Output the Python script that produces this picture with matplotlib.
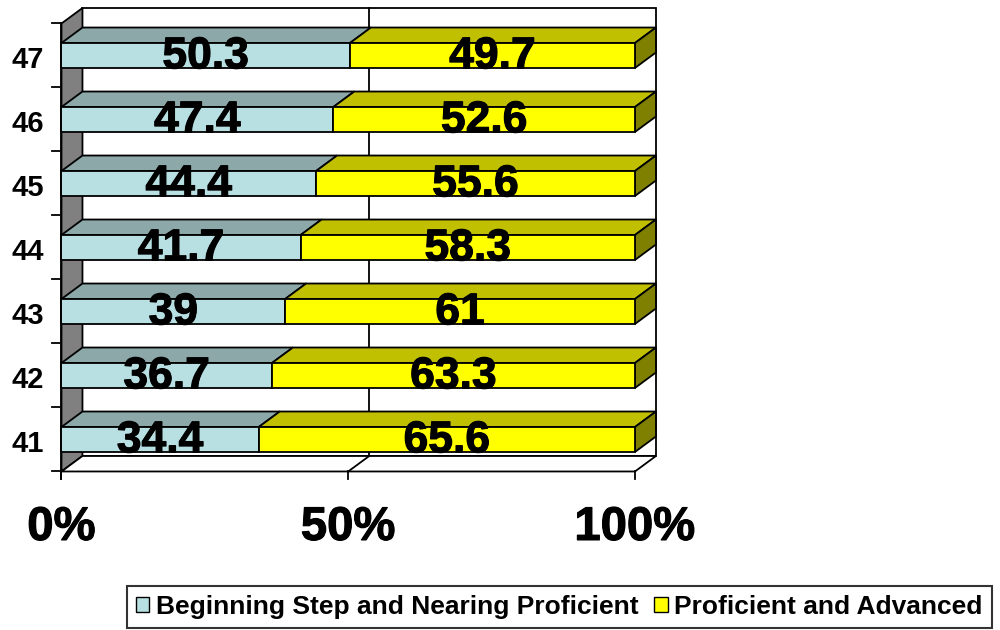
import matplotlib.pyplot as plt
from matplotlib.patches import Polygon, Patch
import matplotlib.patheffects as pe

grades = ['41', '42', '43', '44', '45', '46', '47']
beginning = [34.4, 36.7, 39, 41.7, 44.4, 47.4, 50.3]
proficient = [65.6, 63.3, 61, 58.3, 55.6, 52.6, 49.7]
series_names = ['Beginning Step and Nearing Proficient', 'Proficient and Advanced']
x_ticks = [0, 50, 100]
x_tick_labels = ['0%', '50%', '100%']

# front / top / side shades for each series
teal = ('#b8e0e2', '#8ca8a9', '#5c7071')
yellow = ('#ffff00', '#c0c000', '#808000')

FONT = 'Liberation Sans'
heavy = [pe.withStroke(linewidth=0.8, foreground='black')]

# depth of the fake 3d box, in data units
dx = 3.66
dy = 0.242
half_h = 0.195


def poly(ax, pts, color, z=1, lw=1.3):
    ax.add_patch(Polygon(pts, closed=True, facecolor=color, edgecolor='black',
                         linewidth=lw, joinstyle='miter', zorder=z))


def draw_bar(ax, y, left, width, shades, right_side):
    front, top, side = shades
    y0 = y - half_h
    y1 = y + half_h
    x0 = left
    x1 = left + width
    # top face
    poly(ax, [(x0, y1), (x1, y1), (x1 + dx, y1 + dy), (x0 + dx, y1 + dy)], top, z=3)
    # front face
    poly(ax, [(x0, y0), (x1, y0), (x1, y1), (x0, y1)], front, z=4)
    if right_side:
        poly(ax, [(x1, y0), (x1 + dx, y0 + dy), (x1 + dx, y1 + dy), (x1, y1)], side, z=3)


fig = plt.figure(figsize=(10, 6.3), dpi=100)
ax = fig.add_axes([0, 0, 1, 1])
ax.set_xlim(-10.72, 163.65)
ax.set_ylim(-2.977, 6.867)
ax.axis('off')

n = len(grades)
lo = -0.5
hi = n - 0.5

# back wall, left wall and floor
poly(ax, [(dx, lo + dy), (100 + dx, lo + dy), (100 + dx, hi + dy), (dx, hi + dy)], 'white', z=1)
poly(ax, [(0, lo), (dx, lo + dy), (dx, hi + dy), (0, hi)], '#808080', z=1)
poly(ax, [(0, lo), (100, lo), (100 + dx, lo + dy), (dx, lo + dy)], 'white', z=1)

# gridline at 50%
ax.plot([50 + dx, 50 + dx], [lo + dy, hi + dy], color='black', lw=1.3, zorder=2)
ax.plot([50, 50 + dx], [lo, lo + dy], color='black', lw=1.3, zorder=2)

for i in range(n):
    draw_bar(ax, i, 0, beginning[i], teal, False)
    draw_bar(ax, i, beginning[i], proficient[i], yellow, True)
    ax.text(beginning[i] / 2, i - 0.2, f'{beginning[i]:g}', ha='center', va='baseline',
            fontsize=32, fontweight='bold', family=FONT, zorder=6, path_effects=heavy)
    ax.text(beginning[i] + proficient[i] / 2, i - 0.2, f'{proficient[i]:g}', ha='center',
            va='baseline', fontsize=32, fontweight='bold', family=FONT, zorder=6,
            path_effects=heavy)
    ax.text(-5.93, i - 0.195, grades[i], ha='center', va='baseline',
            fontsize=21, fontweight='bold', family=FONT)

# axes lines and ticks
ax.plot([0, 0], [lo - 0.125, hi], color='black', lw=1.3, zorder=5)
for k in range(n + 1):
    ax.plot([-1.6, 0], [lo + k, lo + k], color='black', lw=1.3, zorder=5)
for xt, lab in zip(x_ticks, x_tick_labels):
    ax.plot([xt, xt], [lo, lo - 0.125], color='black', lw=1.3, zorder=5)
    ax.text(xt, -1.57, lab, ha='center', va='baseline', fontsize=34,
            fontweight='bold', family=FONT, path_effects=heavy)

handles = [Patch(facecolor=teal[0], edgecolor='black', linewidth=1),
           Patch(facecolor=yellow[0], edgecolor='black', linewidth=1)]
leg = fig.legend(handles, series_names, loc='upper left', bbox_to_anchor=(0.127, 1 - 586 / 630),
                 ncol=2, frameon=True, fancybox=False, borderaxespad=0, borderpad=0.35,
                 handlelength=0.5, handleheight=0.5, handletextpad=0.25, columnspacing=0.6,
                 prop={'family': FONT, 'weight': 'bold', 'size': 19})
leg.get_frame().set_edgecolor('black')
leg.get_frame().set_linewidth(1.5)

fig.savefig('out.png', dpi=100)
